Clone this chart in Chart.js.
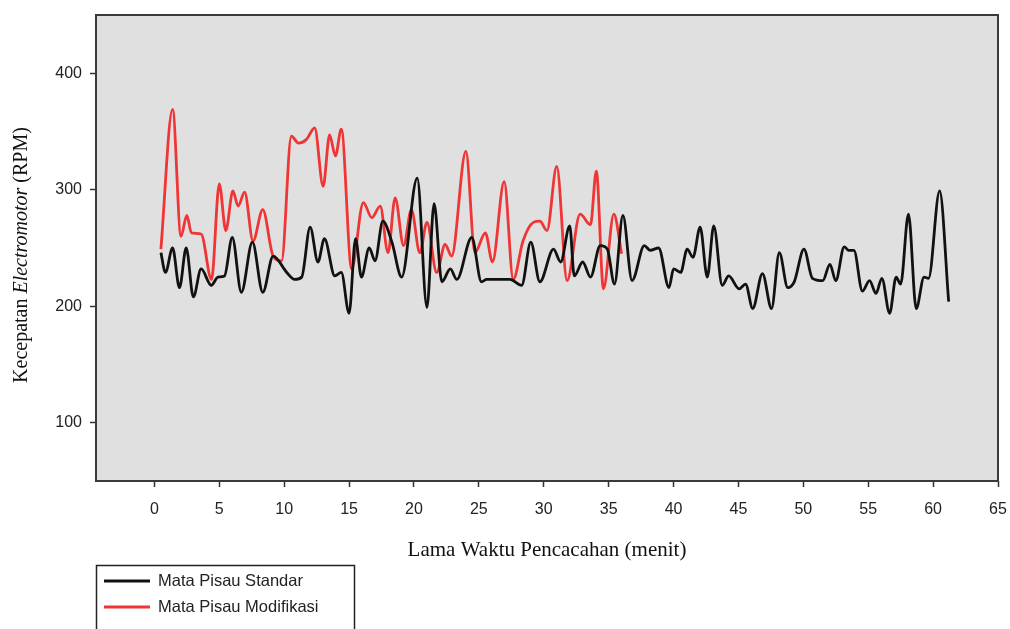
<!DOCTYPE html>
<html>
<head>
<meta charset="utf-8">
<script src="https://cdn.jsdelivr.net/npm/chart.js@4.4.1/dist/chart.umd.min.js"></script>
<style>
  html, body { margin: 0; padding: 0; background: #ffffff; }
  #wrap { width: 1010px; height: 629px; position: relative; }
</style>
</head>
<body>
<div id="wrap"><canvas id="c" width="1010" height="629"></canvas></div>
<script>
// ---- Data ----
const stdTime = [0.5,0.85,1.4,1.93,2.45,3.0,3.6,4.38,4.9,5.4,6.0,6.7,7.55,8.35,9.15,10.2,10.8,11.35,12.0,12.6,13.1,13.9,14.4,15.0,15.5,15.95,16.55,17.0,17.6,18.3,19.05,20.25,21.0,21.55,22.15,22.8,23.3,24.45,25.2,25.6,26.5,27.4,28.3,29.0,29.7,30.75,31.3,32.0,32.35,33.0,33.6,34.35,34.9,35.45,36.1,36.8,37.75,38.2,38.85,39.65,40.0,40.55,41.05,41.5,42.05,42.6,43.1,43.75,44.25,45.05,45.55,46.1,46.85,47.55,48.15,48.8,49.3,50.05,50.7,51.5,52.05,52.5,53.15,53.5,53.9,54.55,55.1,55.6,56.05,56.65,57.15,57.5,58.1,58.7,59.3,59.65,60.5,61.2];
const stdRpm  = [246,229,250,216,250,208,232,218,225,226,259,212,255,212,243,229,223,225,268,238,258,226,229,194,258,225,250,239,273,255,225,310,199,288,221,232,223,259,221,223,223,223,218,255,221,249,238,269,226,238,225,252,249,219,278,222,252,248,250,216,232,229,249,242,268,225,269,218,226,215,219,198,228,198,246,216,221,249,224,222,236,222,251,248,248,213,222,211,224,194,225,219,279,198,225,224,299,204];

const modTime = [0.5,1.4,2.05,2.5,2.85,3.6,4.4,5.0,5.5,6.05,6.45,6.95,7.6,8.35,9.15,9.8,10.55,11.1,11.7,12.35,13.0,13.5,13.95,14.4,15.2,16.1,16.75,17.4,18.0,18.55,19.2,19.8,20.45,21.0,21.75,22.4,22.9,24.0,24.7,25.5,26.05,26.95,27.65,28.4,29.2,29.7,30.25,31.0,31.8,32.8,33.6,34.05,34.6,35.4,36.0];
const modRpm  = [249,369,260,278,263,262,223,305,265,299,286,298,256,283,243,239,346,340,343,353,303,347,329,352,232,289,276,286,246,293,252,283,246,272,229,253,243,333,246,263,238,307,223,256,272,273,265,320,222,279,270,316,215,279,245];

const seriesNames = ['Mata Pisau Standar', 'Mata Pisau Modifikasi'];
const seriesColors = ['#111111', '#ef3535'];
const xTicks = [0,5,10,15,20,25,30,35,40,45,50,55,60,65];
const yTicks = [100,200,300,400];
const xTitle = 'Lama Waktu Pencacahan (menit)';
const yTitleParts = [['Kecepatan ', false], ['Electromotor', true], [' (RPM)', false]];

const toPoints = (xs, ys) => xs.map((x, i) => ({ x: x, y: ys[i] }));

const framePlugin = {
  id: 'frame',
  beforeDraw(chart) {
    const { ctx, chartArea: a } = chart;
    ctx.save();
    ctx.fillStyle = '#e0e0e0';
    ctx.fillRect(a.left, a.top, a.right - a.left, a.bottom - a.top);
    ctx.restore();
  },
  afterDraw(chart) {
    const { ctx, chartArea: a } = chart;
    ctx.save();
    ctx.strokeStyle = '#3a3a3a';
    ctx.lineWidth = 2;
    ctx.strokeRect(a.left, a.top, a.right - a.left, a.bottom - a.top);

    // Y axis title with mixed styles
    ctx.translate(22, 255);
    ctx.rotate(-Math.PI / 2);
    ctx.fillStyle = '#111';
    ctx.textBaseline = 'middle';
    ctx.textAlign = 'left';
    const fontN = '20px "Liberation Serif", "Times New Roman", serif';
    const fontI = 'italic 20px "Liberation Serif", "Times New Roman", serif';
    let total = 0;
    yTitleParts.forEach(([t, it]) => { ctx.font = it ? fontI : fontN; total += ctx.measureText(t).width; });
    let xx = -total / 2;
    yTitleParts.forEach(([t, it]) => { ctx.font = it ? fontI : fontN; ctx.fillText(t, xx, 0); xx += ctx.measureText(t).width; });
    ctx.restore();

    // Legend box
    ctx.save();
    ctx.strokeStyle = '#222';
    ctx.lineWidth = 1.5;
    ctx.strokeRect(96.5, 565.5, 258, 80);
    ctx.font = '16.5px "Liberation Sans", Arial, sans-serif';
    ctx.textBaseline = 'middle';
    ctx.textAlign = 'left';
    chart.data.datasets.forEach((ds, i) => {
      const y = 581 + i * 26;
      ctx.strokeStyle = ds.borderColor;
      ctx.lineWidth = 3;
      ctx.beginPath();
      ctx.moveTo(104, y);
      ctx.lineTo(150, y);
      ctx.stroke();
      ctx.fillStyle = '#222';
      ctx.fillText(ds.label, 158, y);
    });
    ctx.restore();
  }
};

new Chart(document.getElementById('c'), {
  type: 'line',
  data: {
    datasets: [
      { label: seriesNames[0], data: toPoints(stdTime, stdRpm), borderColor: seriesColors[0], borderWidth: 2.8, pointRadius: 0, cubicInterpolationMode: 'monotone', fill: false },
      { label: seriesNames[1], data: toPoints(modTime, modRpm), borderColor: seriesColors[1], borderWidth: 2.8, pointRadius: 0, cubicInterpolationMode: 'monotone', fill: false }
    ]
  },
  options: {
    responsive: false,
    animation: false,
    layout: { padding: { left: 0, top: 15, right: 12, bottom: 58 } },
    plugins: { legend: { display: false }, tooltip: { enabled: false } },
    scales: {
      x: {
        type: 'linear', min: -4.5, max: 65,
        afterBuildTicks: s => { s.ticks = xTicks.map(v => ({ value: v })); },
        afterFit: s => { s.height = 90; s.paddingLeft = 0; s.paddingRight = 0; },
        ticks: { font: { family: 'Liberation Sans', size: 16 }, color: '#222', padding: 13, maxRotation: 0, autoSkip: false },
        grid: { display: true, drawOnChartArea: false, drawTicks: true, tickLength: 6, tickColor: '#333', tickWidth: 1.5 },
        border: { display: false },
        title: { display: true, text: xTitle, font: { family: 'Liberation Serif', size: 21 }, color: '#111', padding: { top: 8, bottom: 8 } }
      },
      y: {
        type: 'linear', min: 50, max: 450,
        afterBuildTicks: s => { s.ticks = yTicks.map(v => ({ value: v })); },
        afterFit: s => { s.width = 96; s.paddingTop = 0; s.paddingBottom = 0; },
        ticks: { font: { family: 'Liberation Sans', size: 16 }, color: '#222', padding: 8 },
        grid: { display: true, drawOnChartArea: false, drawTicks: true, tickLength: 6, tickColor: '#333', tickWidth: 1.5 },
        border: { display: false }
      }
    }
  },
  plugins: [framePlugin]
});
</script>
</body>
</html>
